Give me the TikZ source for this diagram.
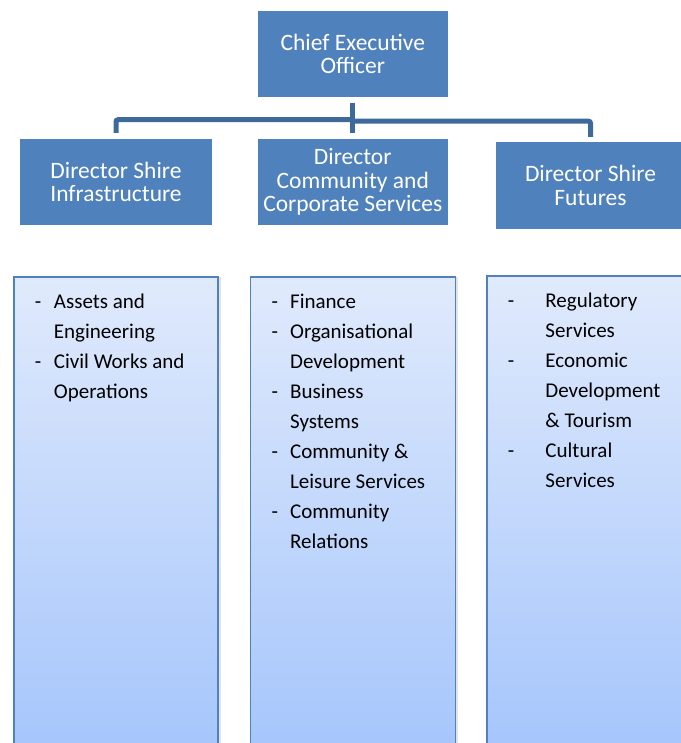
\documentclass[tikz,border=0pt]{standalone}
\usepackage{fontspec}
\setmainfont{Carlito}
\usetikzlibrary{positioning,shadows}
\definecolor{boxblue}{RGB}{79,129,189}
\definecolor{linkblue}{RGB}{62,106,155}
\definecolor{listtop}{RGB}{224,234,252}
\definecolor{listbot}{RGB}{166,198,252}
\tikzset{
	post/.style={fill=boxblue, text=white, align=center, inner sep=0pt,
		minimum width=189.5pt, minimum height=86pt, font=\fontsize{23.5}{23.8}\selectfont},
	link/.style={draw=linkblue, line width=5pt, rounded corners=2pt},
	pane/.style={draw=boxblue, line width=1.5pt, top color=listtop, bottom color=listbot,
		minimum width=204pt, minimum height=468pt, inner sep=0pt,
		drop shadow={shadow xshift=2.5pt, shadow yshift=0pt, opacity=0.18, fill=black!60}},
	items/.style={inner sep=0pt, anchor=north west, font=\fontsize{21}{30}\selectfont}
}
\begin{document}
\begin{tikzpicture}[x=1pt,y=-1pt]
		\useasboundingbox (0,0) rectangle (680,743);
		% posts
		\node[post] (ceo) at (352.75,54) {Chief Executive\\Officer};
		\node[post, minimum width=192pt] (dinf) at (116,182) {Director Shire\\Infrastructure};
		\node[post] (dccs) at (352.75,182) {Director\\Community and\\Corporate Services};
		\node[post] (dfut) at (590.5,185.5) {Director Shire\\Futures};
		% links
		\draw[link, shorten <=5.5pt, shorten >=6pt] (ceo) -- (dccs);
		\draw[link, shorten >=6pt] ([yshift=-22.5pt]ceo.south) -| (dinf);
		\draw[link, shorten >=5.5pt] ([yshift=-24pt]ceo.south) -| (dfut);
		% lists
		\node[pane] (linf) at (116,511) {};
		\node[pane, minimum width=204.6pt] (lccs) at (353,511) {};
		\node[pane] (lfut) at (589,510) {};
		\node[items] (tinf) at ([xshift=21.5pt,yshift=-10.75pt]linf.north west) {%
			\begin{tabular}{@{}p{19pt}@{}l@{}}
				- & Assets and\\
				  & Engineering\\
				- & Civil Works and\\
				  & Operations
			\end{tabular}};
		\node[items] (tccs) at ([xshift=21.5pt,yshift=-10.75pt]lccs.north west) {%
			\begin{tabular}{@{}p{18.5pt}@{}l@{}}
				- & Finance\\
				- & Organisational\\
				  & Development\\
				- & Business\\
				  & Systems\\
				- & Community \&\\
				  & Leisure Services\\
				- & Community\\
				  & Relations
			\end{tabular}};
		\node[items] (tfut) at ([xshift=21.5pt,yshift=-10.75pt]lfut.north west) {%
			\begin{tabular}{@{}p{37.5pt}@{}l@{}}
				- & Regulatory\\
				  & Services\\
				- & Economic\\
				  & Development\\
				  & \& Tourism\\
				- & Cultural\\
				  & Services
			\end{tabular}};
\end{tikzpicture}
\end{document}
